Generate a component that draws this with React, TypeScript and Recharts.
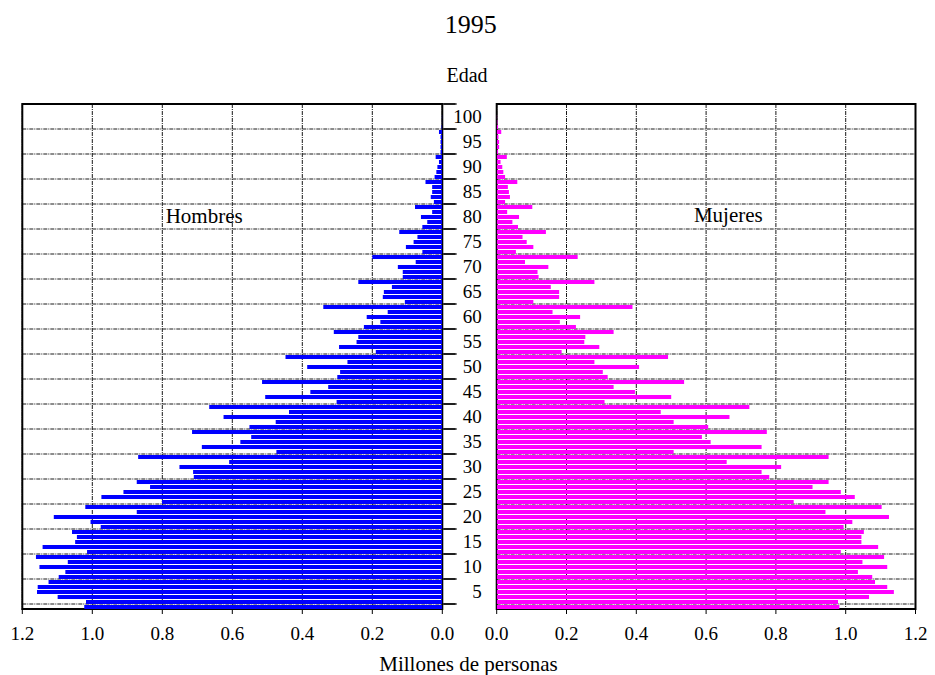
import React from 'react';
import { BarChart, Bar, XAxis, YAxis, CartesianGrid, ReferenceArea } from 'recharts';

// Age positions (as read on the "Edad" axis), bottom to top
const ages = [
  2, 3, 4, 5, 6, 7, 8, 9, 10, 11, 12, 13, 14, 15, 16, 17, 18, 19, 20, 21,
  22, 23, 24, 25, 26, 27, 28, 29, 30, 31, 32, 33, 34, 35, 36, 37, 38, 39, 40, 41,
  42, 43, 44, 45, 46, 47, 48, 49, 50, 51, 52, 53, 54, 55, 56, 57, 58, 59, 60, 61,
  62, 63, 64, 65, 66, 67, 68, 69, 70, 71, 72, 73, 74, 75, 76, 77, 78, 79, 80, 81,
  82, 83, 84, 85, 86, 87, 88, 89, 90, 91, 92, 93, 94, 95, 96, 97, 98, 99, 100, 101, 102,
];

// Millones de personas
const hombres = [
  1.023, 1.018, 1.099, 1.158, 1.156, 1.125, 1.096, 1.077, 1.151, 1.07, 1.161, 1.015, 1.142, 1.049, 1.044, 1.058, 0.976, 1.005, 1.11, 0.873,
  1.02, 0.801, 0.974, 0.911, 0.835, 0.873, 0.71, 0.712, 0.751, 0.609, 0.869, 0.474, 0.687, 0.577, 0.546, 0.715, 0.551, 0.476, 0.625, 0.438,
  0.666, 0.302, 0.506, 0.377, 0.326, 0.515, 0.3, 0.292, 0.386, 0.271, 0.448, 0.19, 0.295, 0.245, 0.24, 0.31, 0.224, 0.177, 0.216, 0.156,
  0.34, 0.107, 0.17, 0.167, 0.144, 0.24, 0.113, 0.113, 0.127, 0.076, 0.2, 0.057, 0.104, 0.082, 0.071, 0.123, 0.057, 0.043, 0.061, 0.029,
  0.078, 0.024, 0.033, 0.029, 0.029, 0.048, 0.022, 0.017, 0.014, 0.0095, 0.019, 0.005, 0.005, 0.005, 0.005, 0.0095, 0.002, 0.001, 0.001, 0, 0,
];

const mujeres = [
  0.982, 0.978, 1.067, 1.138, 1.119, 1.084, 1.076, 1.035, 1.119, 1.048, 1.11, 0.986, 1.093, 1.045, 1.045, 1.052, 0.994, 1.019, 1.124, 0.942,
  1.103, 0.851, 1.026, 0.986, 0.905, 0.951, 0.781, 0.759, 0.815, 0.659, 0.951, 0.507, 0.759, 0.613, 0.588, 0.774, 0.606, 0.507, 0.667, 0.47,
  0.724, 0.309, 0.5, 0.396, 0.335, 0.537, 0.318, 0.304, 0.408, 0.28, 0.491, 0.186, 0.294, 0.251, 0.254, 0.335, 0.227, 0.181, 0.239, 0.16,
  0.389, 0.105, 0.179, 0.179, 0.155, 0.28, 0.12, 0.117, 0.148, 0.081, 0.232, 0.055, 0.105, 0.086, 0.074, 0.141, 0.061, 0.045, 0.064, 0.03,
  0.102, 0.024, 0.038, 0.035, 0.032, 0.059, 0.024, 0.019, 0.016, 0.011, 0.029, 0.004, 0.007, 0.007, 0.005, 0.013, 0.004, 0.002, 0.001, 0, 0,
];

const xTicks = [0, 0.2, 0.4, 0.6, 0.8, 1.0, 1.2];
const xDomain: [number, number] = [0, 1.2];
const ageLabelTicks = [5, 10, 15, 20, 25, 30, 35, 40, 45, 50, 55, 60, 65, 70, 75, 80, 85, 90, 95, 100];
const ageGridTicks = [2.5, 7.5, 12.5, 17.5, 22.5, 27.5, 32.5, 37.5, 42.5, 47.5, 52.5, 57.5, 62.5, 67.5, 72.5, 77.5, 82.5, 87.5, 92.5, 97.5, 102.5];
const ageDomain: [number, number] = [1.5, 102.5];

const rows = ages.map((age, i) => ({ age, h: hombres[i], m: mujeres[i] }));

const FONT = '"Liberation Serif", "Times New Roman", Times, serif';
const W = 935;
const H = 675;
const PLOT_TOP = 104;
const PLOT_BOTTOM = 609;
const L_LEFT = 22.3;
const L_RIGHT = 442.3;
const R_LEFT = 496.7;
const R_RIGHT = 915.5;
const XAXIS_H = 40;
const TICK_AXIS_W = 1;
const LABEL_W = 40;

const tickFont = { fontSize: 19, fontFamily: FONT, fill: '#000' };
const fmt = (v: number) => v.toFixed(1);
const NoTick = () => null;

function LeftPanel() {
  return (
    <BarChart
      width={W}
      height={H}
      data={rows}
      layout="vertical"
      barSize={4}
      margin={{ top: PLOT_TOP, left: L_LEFT, right: W - L_RIGHT - TICK_AXIS_W, bottom: H - PLOT_BOTTOM - XAXIS_H }}
    >
      <XAxis
        xAxisId="b"
        type="number"
        domain={xDomain}
        allowDataOverflow
        reversed
        ticks={xTicks}
        interval={0}
        tickFormatter={fmt}
        height={XAXIS_H}
        tick={tickFont}
        tickSize={5}
        tickMargin={13}
        axisLine={false}
        tickLine={{ stroke: '#000' }}
      />
      <YAxis yAxisId="cat" type="category" dataKey="age" reversed hide width={0} />
      <YAxis
        yAxisId="num"
        orientation="right"
        type="number"
        dataKey="age"
        domain={ageDomain}
        allowDataOverflow
        reversed
        ticks={ageGridTicks}
        interval={0}
        width={TICK_AXIS_W}
        tick={NoTick}
        tickSize={13}
        tickLine={{ stroke: '#000', strokeWidth: 1.3 }}
        axisLine={false}
      />
      <Bar dataKey="h" xAxisId="b" yAxisId="cat" fill="#0000ff" isAnimationActive={false} />
      <CartesianGrid xAxisId="b" yAxisId="num" stroke="#1a1a1a" strokeDasharray="4 1 1 1" />
      <ReferenceArea
        xAxisId="b"
        yAxisId="num"
        x1={xDomain[0]}
        x2={xDomain[1]}
        y1={ageDomain[0]}
        y2={ageDomain[1]}
        fill="none"
        fillOpacity={0}
        stroke="#000"
        strokeWidth={2}
        ifOverflow="visible"
      />
    </BarChart>
  );
}

function RightPanel() {
  return (
    <BarChart
      width={W}
      height={H}
      data={rows}
      layout="vertical"
      barSize={4}
      margin={{ top: PLOT_TOP, left: R_LEFT - LABEL_W - TICK_AXIS_W, right: W - R_RIGHT, bottom: H - PLOT_BOTTOM - XAXIS_H }}
    >
      <XAxis
        xAxisId="b"
        type="number"
        domain={xDomain}
        allowDataOverflow
        ticks={xTicks}
        interval={0}
        tickFormatter={fmt}
        height={XAXIS_H}
        tick={tickFont}
        tickSize={5}
        tickMargin={13}
        axisLine={false}
        tickLine={{ stroke: '#000' }}
      />
      <YAxis yAxisId="cat" type="category" dataKey="age" reversed hide width={0} />
      <YAxis
        yAxisId="num"
        orientation="left"
        type="number"
        dataKey="age"
        domain={ageDomain}
        allowDataOverflow
        reversed
        ticks={ageGridTicks}
        interval={0}
        width={TICK_AXIS_W}
        tick={NoTick}
        tickSize={13}
        tickLine={{ stroke: '#000', strokeWidth: 1.3 }}
        axisLine={false}
      />
      <YAxis
        yAxisId="lab"
        orientation="left"
        type="number"
        dataKey="age"
        domain={ageDomain}
        allowDataOverflow
        reversed
        ticks={ageLabelTicks}
        interval={0}
        width={LABEL_W}
        tick={tickFont}
        tickSize={14}
        tickMargin={1}
        tickLine={false}
        axisLine={false}
      />
      <Bar dataKey="m" xAxisId="b" yAxisId="cat" fill="#ff00ff" isAnimationActive={false} />
      <CartesianGrid xAxisId="b" yAxisId="num" stroke="#1a1a1a" strokeDasharray="4 1 1 1" />
      <ReferenceArea
        xAxisId="b"
        yAxisId="num"
        x1={xDomain[0]}
        x2={xDomain[1]}
        y1={ageDomain[0]}
        y2={ageDomain[1]}
        fill="none"
        fillOpacity={0}
        stroke="#000"
        strokeWidth={2}
        ifOverflow="visible"
      />
    </BarChart>
  );
}

export default function App() {
  return (
    <div style={{ position: 'absolute', left: 0, top: 0, width: W, height: H, background: '#fff', overflow: 'hidden' }}>
      <div style={{ position: 'absolute', left: 0, top: 0 }}>
        <LeftPanel />
      </div>
      <div style={{ position: 'absolute', left: 0, top: 0 }}>
        <RightPanel />
      </div>
      <svg width={W} height={H} style={{ position: 'absolute', left: 0, top: 0, pointerEvents: 'none' }}>
        <g fontFamily={FONT} fill="#000" textAnchor="middle">
          <text x={470.8} y={33.3} fontSize={26}>1995</text>
          <text x={467} y={81.7} fontSize={20}>Edad</text>
          <text x={204.2} y={222.5} fontSize={21}>Hombres</text>
          <text x={728.3} y={221.7} fontSize={21}>Mujeres</text>
          <text x={468.5} y={671} fontSize={21}>Millones de personas</text>
        </g>
      </svg>
    </div>
  );
}
